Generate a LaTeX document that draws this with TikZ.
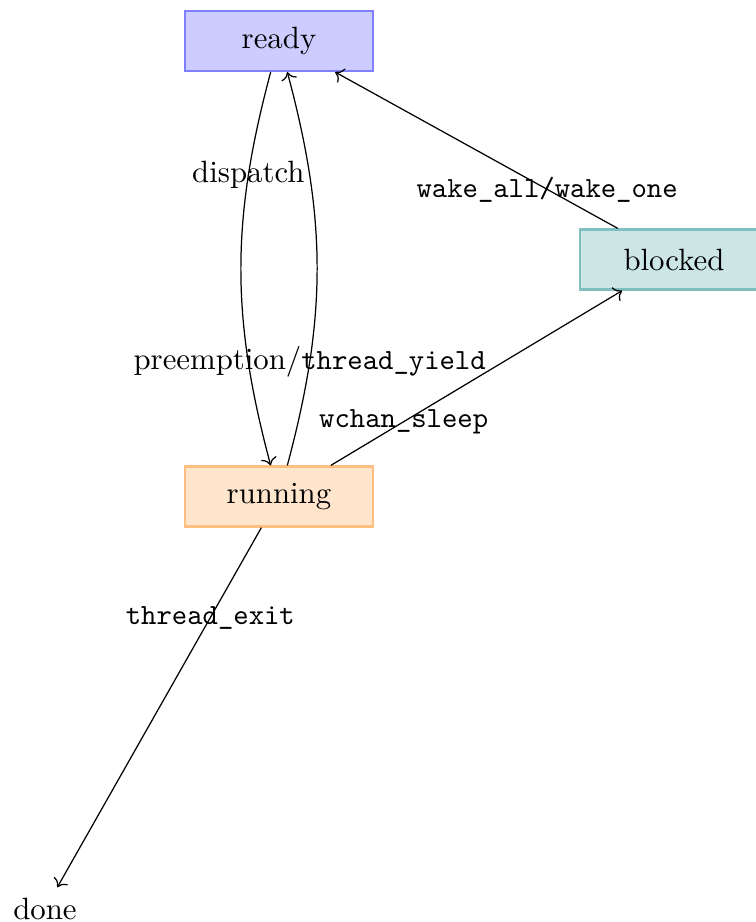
\documentclass[tikz,border=0pt]{standalone}
\usepackage{tikz}
\usetikzlibrary{arrows.meta,positioning}

\newcommand{\tlbl}[1]{{\fontsize{9.5}{11}\ttfamily #1}}

\begin{document}
\begin{tikzpicture}[x=0.3247pt,y=0.3247pt,
  stbox/.style={draw,thick,minimum width=61pt,minimum height=19.4pt,inner sep=2pt}]
\useasboundingbox (0,0) rectangle (756,-922);
% states
\node[stbox,draw=blue!50,fill=blue!20] (ready) at (279,-41) {ready};
\node[stbox,draw=teal!50,fill=teal!20] (blocked) at (674,-259.5) {blocked};
\node[stbox,draw=orange!50,fill=orange!20] (running) at (279,-496.5) {running};
\node (done) at (45,-909) {done};
% transitions
\draw[->] (ready) to[bend right=15] node[near start] {dispatch} (running);
\draw[->] (running) to[bend right=15] node[near start] {preemption/\tlbl{thread\_yield}} (ready);
\draw[->] (running) -- node[near start] {\tlbl{wchan\_sleep}} (blocked);
\draw[->] (blocked) -- node[near start] {\tlbl{wake\_all/wake\_one}} (ready);
\draw[->] (running) -- node[near start] {\tlbl{thread\_exit}} (done);
\end{tikzpicture}
\end{document}
